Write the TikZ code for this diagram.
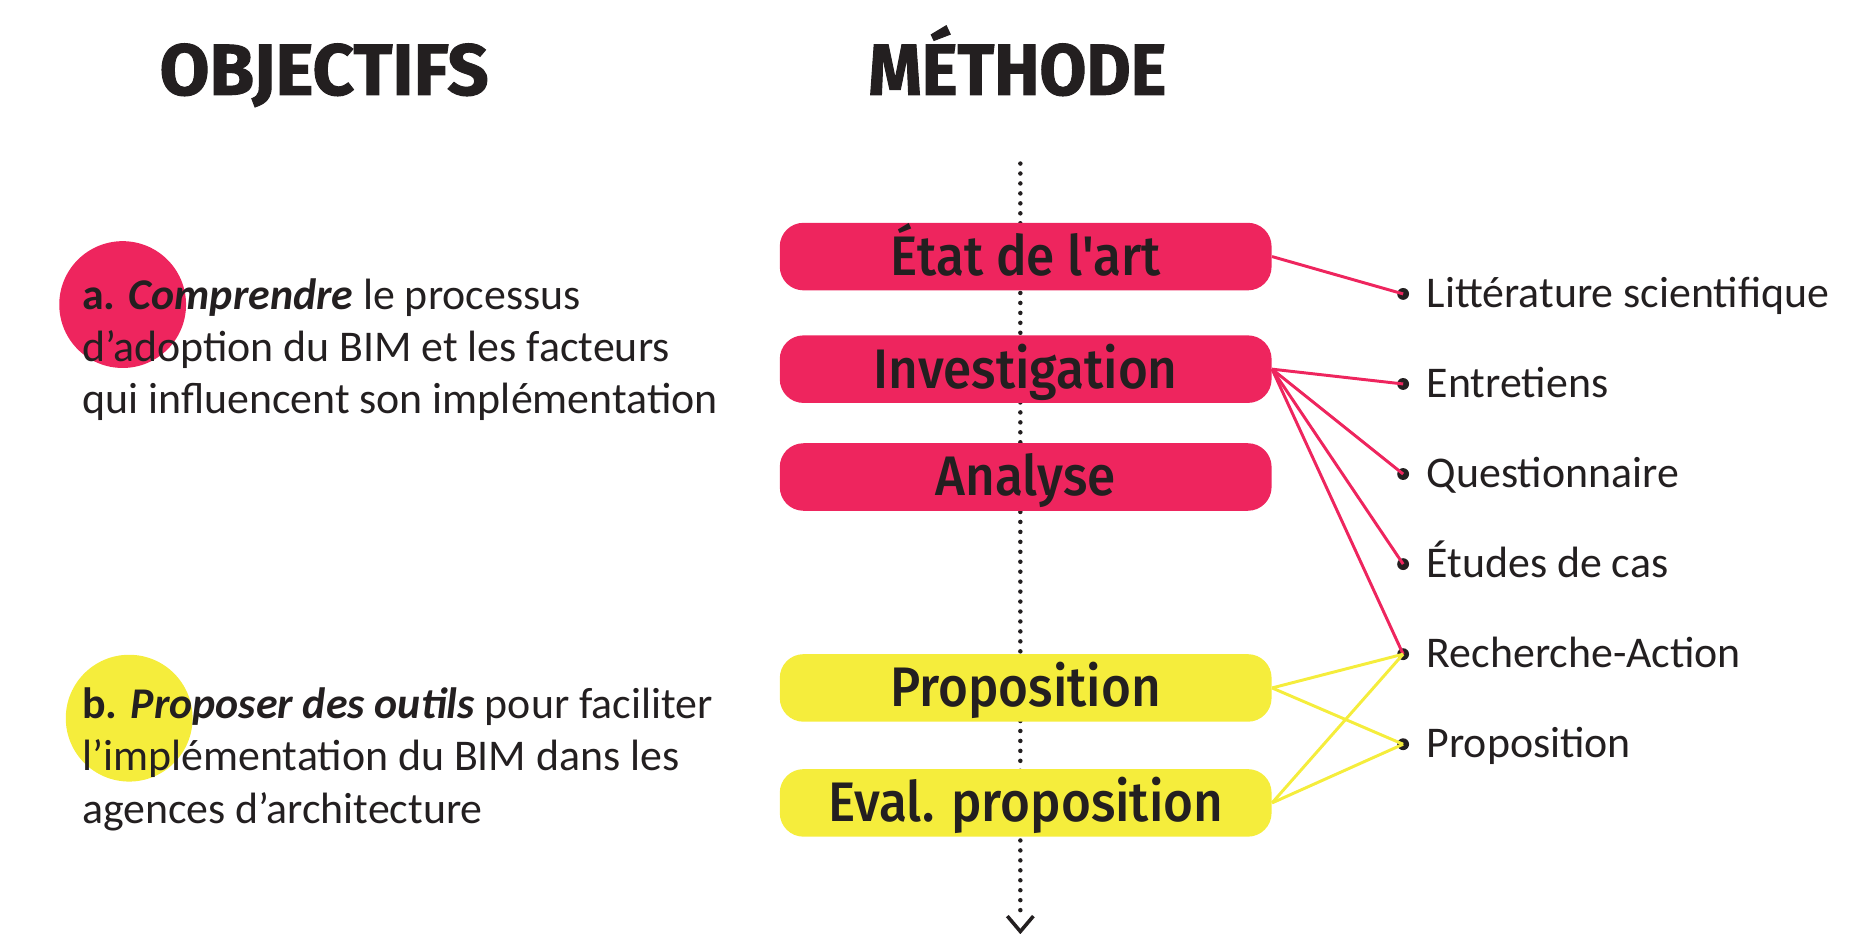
\documentclass[tikz,border=0pt]{standalone}
\usepackage{fontspec}
\usepackage{graphicx}
\setmainfont{Carlito}
\newfontfamily\boxfont{Fira Sans Medium}[FakeStretch=0.92]
\newfontfamily\titlefont{Fira Sans}[FakeBold=1.4]
\definecolor{pinkc}{HTML}{EE255E}
\definecolor{yellowc}{HTML}{F5ED3C}
\definecolor{ink}{HTML}{231F20}
\tikzset{
  stepbox/.style={rounded corners=10pt, minimum width=207.5pt, minimum height=28.5pt,
    inner sep=0pt, text height=16pt, text depth=0pt, text=ink, font=\boxfont\fontsize{23.5}{26}\selectfont},
  pinkbox/.style={stepbox, fill=pinkc},
  yellowbox/.style={stepbox, fill=yellowc},
  titletext/.style={anchor=base, text=ink, inner sep=0pt, font=\titlefont\bfseries\fontsize{30.5}{34}\selectfont},
  bodytext/.style={anchor=base west, text=ink, inner sep=0pt, font=\fontsize{18.5}{22}\selectfont},
  dotnode/.style={circle, fill=ink, inner sep=0pt, minimum size=5pt},
  pinkline/.style={draw=pinkc, line width=1.25pt},
  yellowline/.style={draw=yellowc, line width=1.25pt},
  timeline/.style={draw=ink, line width=1.9pt, line cap=round, dash pattern=on 0pt off 4.2pt},
}
\begin{document}
\begin{tikzpicture}[x=0.5pt, y=-0.5pt]
\useasboundingbox (0,0) rectangle (1567,788);
% titles
\node[titletext] (tobj) at (273.5,80) {OBJECTIFS};
\node[titletext] (tmeth) at (858.5,80) {\scalebox{0.94}[1]{MÉTHODE}};
% circles
\fill[pinkc] (103.5,257) circle (53.5);
\fill[yellowc] (109,606) circle (53.5);
% left texts
\node[bodytext] (a1) at (69,261.5) {\textbf{a.} \textbf{\textit{Comprendre}} le processus};
\node[bodytext] (a2) at (69,305) {d’adoption du BIM et les facteurs};
\node[bodytext] (a3) at (69,348.5) {qui influencent son implémentation};
\node[bodytext] (b1t) at (69,606) {\textbf{b.} \textbf{\textit{Proposer des outils}} pour faciliter};
\node[bodytext] (b2t) at (69,650) {l’implémentation du BIM dans les};
\node[bodytext] (b3t) at (69,694.5) {agences d’architecture};
% timeline
\coordinate (ttop) at (861,138);
\coordinate (tbot) at (861,774);
\coordinate (cl) at (850,773);
\coordinate (ctip) at (861,786);
\coordinate (cr) at (872,773);
\draw[timeline] (ttop) -- (tbot);
\draw[draw=ink, line width=1.5pt] (cl) -- (ctip) -- (cr);
% boxes
\node[pinkbox] (b1) at (865.5,216.5) {État de l'art};
\node[pinkbox] (b2) at (865.5,311.5) {Investigation};
\node[pinkbox] (b3) at (865.5,402.5) {Analyse};
\node[yellowbox] (b4) at (865.5,580.5) {Proposition};
\node[yellowbox] (b5) at (865.5,677.5) {Eval. proposition};
% right list
\node[dotnode] (d1) at (1184,248) {};
\node[dotnode] (d2) at (1184,324) {};
\node[dotnode] (d3) at (1184,400) {};
\node[dotnode] (d4) at (1184,476) {};
\node[dotnode] (d5) at (1184,552) {};
\node[dotnode] (d6) at (1184,628) {};
\node[bodytext] (l1) at (1203.5,259.5) {Littérature scientifique};
\node[bodytext] (l2) at (1203.5,335.5) {Entretiens};
\node[bodytext] (l3) at (1203.5,411.5) {Questionnaire};
\node[bodytext] (l4) at (1203.5,487.5) {Études de cas};
\node[bodytext] (l5) at (1203.5,563.5) {Recherche-Action};
\node[bodytext] (l6) at (1203.5,639.5) {Proposition};
% connectors
\draw[pinkline] (b1.east) -- (d1.center);
\draw[pinkline] (b2.east) -- (d2.center);
\draw[pinkline] (b2.east) -- (d3.center);
\draw[pinkline] (b2.east) -- (d4.center);
\draw[pinkline] (b2.east) -- (d5.center);
\draw[yellowline] (b4.east) -- (d5.center);
\draw[yellowline] (b4.east) -- (d6.center);
\draw[yellowline] (b5.east) -- (d5.center);
\draw[yellowline] (b5.east) -- (d6.center);
\end{tikzpicture}
\end{document}
